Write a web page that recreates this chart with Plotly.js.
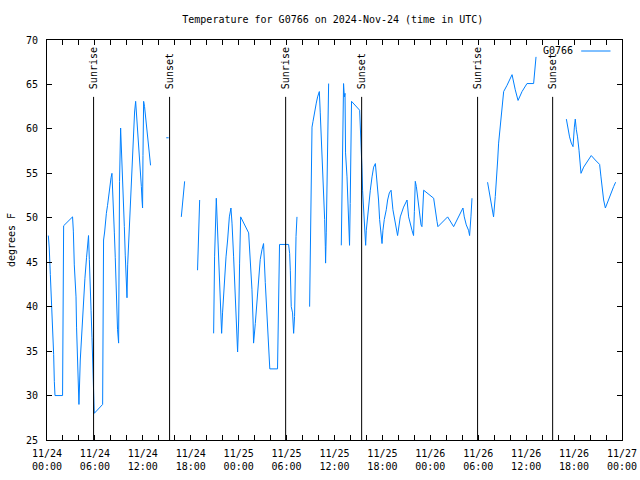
<!DOCTYPE html>
<html>
<head>
<meta charset="utf-8">
<script src="https://cdn.plot.ly/plotly-3.0.1.min.js"></script>
<style>html,body{margin:0;padding:0;background:#fff;}#chart{width:640px;height:480px;}</style>
</head>
<body>
<div id="chart"></div>
<script>
const stationName = "G0766";
const chartTitle = "Temperature for G0766 on 2024-Nov-24 (time in UTC)";
const yAxisTitle = "degrees F";

const times = [
"2024-11-24 00:10","2024-11-24 00:17","2024-11-24 00:25","2024-11-24 00:35","2024-11-24 00:42","2024-11-24 00:50","2024-11-24 00:55","2024-11-24 01:00","2024-11-24 01:57","2024-11-24 01:59",
"2024-11-24 02:05","2024-11-24 03:12","2024-11-24 03:18","2024-11-24 03:25","2024-11-24 03:38","2024-11-24 03:42","2024-11-24 03:50","2024-11-24 03:57","2024-11-24 04:00","2024-11-24 04:10",
"2024-11-24 04:20","2024-11-24 04:33","2024-11-24 04:45","2024-11-24 04:57","2024-11-24 05:05","2024-11-24 05:12","2024-11-24 05:18","2024-11-24 05:23","2024-11-24 05:31","2024-11-24 05:38",
"2024-11-24 05:43","2024-11-24 05:50","2024-11-24 05:55","2024-11-24 06:58","2024-11-24 07:00","2024-11-24 07:05","2024-11-24 07:13","2024-11-24 07:18","2024-11-24 07:26","2024-11-24 07:35",
"2024-11-24 07:43","2024-11-24 07:50","2024-11-24 08:01","2024-11-24 08:08","2024-11-24 08:16","2024-11-24 08:26","2024-11-24 08:33","2024-11-24 08:38","2024-11-24 08:46","2024-11-24 08:50",
"2024-11-24 08:58","2024-11-24 09:00","2024-11-24 09:05","2024-11-24 09:13","2024-11-24 09:18","2024-11-24 09:24","2024-11-24 09:31","2024-11-24 09:41","2024-11-24 09:48","2024-11-24 09:56",
"2024-11-24 10:01","2024-11-24 10:06","2024-11-24 10:13","2024-11-24 10:21","2024-11-24 10:31","2024-11-24 10:39","2024-11-24 10:46","2024-11-24 10:51","2024-11-24 10:58","2024-11-24 11:06",
"2024-11-24 11:11","2024-11-24 11:21","2024-11-24 11:28","2024-11-24 11:36","2024-11-24 11:41","2024-11-24 11:49","2024-11-24 11:54","2024-11-24 11:58","2024-11-24 12:01","2024-11-24 12:06",
"2024-11-24 12:13","2024-11-24 12:19","2024-11-24 12:26","2024-11-24 12:31","2024-11-24 12:39","2024-11-24 12:46","2024-11-24 12:51","2024-11-24 12:58","2024-11-24 13:30","2024-11-24 14:56",
"2024-11-24 15:14","2024-11-24 16:00","2024-11-24 16:49","2024-11-24 16:57","2024-11-24 17:06","2024-11-24 17:14","2024-11-24 18:00","2024-11-24 18:51","2024-11-24 18:53","2024-11-24 18:59",
"2024-11-24 19:07","2024-11-24 20:00","2024-11-24 20:52","2024-11-24 20:59","2024-11-24 21:12","2024-11-24 21:17","2024-11-24 21:29","2024-11-24 21:42","2024-11-24 21:47","2024-11-24 21:52",
"2024-11-24 21:59","2024-11-24 22:12","2024-11-24 22:25","2024-11-24 22:37","2024-11-24 22:50","2024-11-24 23:02","2024-11-24 23:10","2024-11-24 23:22","2024-11-24 23:35","2024-11-24 23:42",
"2024-11-24 23:52","2024-11-25 00:00","2024-11-25 00:07","2024-11-25 00:15","2024-11-25 01:15","2024-11-25 01:27","2024-11-25 01:40","2024-11-25 01:48","2024-11-25 01:52","2024-11-25 02:05",
"2024-11-25 02:18","2024-11-25 02:30","2024-11-25 02:42","2024-11-25 02:55","2024-11-25 03:07","2024-11-25 03:20","2024-11-25 03:33","2024-11-25 03:45","2024-11-25 03:52","2024-11-25 03:54",
"2024-11-25 04:52","2024-11-25 04:55","2024-11-25 05:00","2024-11-25 05:07","2024-11-25 06:15","2024-11-25 06:23","2024-11-25 06:28","2024-11-25 06:35","2024-11-25 06:45","2024-11-25 06:53",
"2024-11-25 07:00","2024-11-25 07:05","2024-11-25 07:11","2024-11-25 07:18","2024-11-25 08:00","2024-11-25 08:53","2024-11-25 08:58","2024-11-25 09:06","2024-11-25 09:11","2024-11-25 09:18",
"2024-11-25 09:28","2024-11-25 09:36","2024-11-25 09:43","2024-11-25 09:53","2024-11-25 10:06","2024-11-25 10:13","2024-11-25 10:21","2024-11-25 10:28","2024-11-25 10:38","2024-11-25 10:46",
"2024-11-25 10:51","2024-11-25 10:53","2024-11-25 10:58","2024-11-25 11:08","2024-11-25 11:16","2024-11-25 12:00","2024-11-25 12:51","2024-11-25 12:56","2024-11-25 13:01","2024-11-25 13:08",
"2024-11-25 13:14","2024-11-25 13:16","2024-11-25 13:19","2024-11-25 13:23","2024-11-25 13:34","2024-11-25 13:41","2024-11-25 13:49","2024-11-25 13:53","2024-11-25 13:58","2024-11-25 14:04",
"2024-11-25 14:08","2024-11-25 15:09","2024-11-25 15:14","2024-11-25 15:19","2024-11-25 15:26","2024-11-25 15:31","2024-11-25 15:39","2024-11-25 15:46","2024-11-25 15:54","2024-11-25 15:59",
"2024-11-25 16:09","2024-11-25 16:16","2024-11-25 16:29","2024-11-25 16:42","2024-11-25 16:54","2024-11-25 17:07","2024-11-25 17:14","2024-11-25 17:24","2024-11-25 17:31","2024-11-25 17:39",
"2024-11-25 17:49","2024-11-25 17:57","2024-11-25 18:04","2024-11-25 18:14","2024-11-25 18:29","2024-11-25 18:39","2024-11-25 18:52","2024-11-25 19:05","2024-11-25 19:19","2024-11-25 19:37",
"2024-11-25 19:54","2024-11-25 20:14","2024-11-25 20:39","2024-11-25 21:05","2024-11-25 21:17","2024-11-25 21:42","2024-11-25 21:54","2024-11-25 22:00","2024-11-25 22:07","2024-11-25 22:15",
"2024-11-25 22:27","2024-11-25 22:40","2024-11-25 22:50","2024-11-25 22:57","2024-11-25 23:02","2024-11-25 23:10","2024-11-26 00:25","2024-11-26 00:37","2024-11-26 00:50","2024-11-26 00:57",
"2024-11-26 02:10","2024-11-26 02:55","2024-11-26 04:05","2024-11-26 04:15","2024-11-26 04:30","2024-11-26 04:47","2024-11-26 04:55","2024-11-26 05:05","2024-11-26 05:13","2024-11-26 06:00",
"2024-11-26 07:10","2024-11-26 07:23","2024-11-26 07:36","2024-11-26 07:48","2024-11-26 07:55","2024-11-26 08:08","2024-11-26 08:16","2024-11-26 08:26","2024-11-26 08:33","2024-11-26 08:41",
"2024-11-26 08:51","2024-11-26 08:58","2024-11-26 09:11","2024-11-26 09:36","2024-11-26 10:14","2024-11-26 10:38","2024-11-26 10:59","2024-11-26 11:29","2024-11-26 12:06","2024-11-26 12:56",
"2024-11-26 13:03","2024-11-26 13:14","2024-11-26 15:00","2024-11-26 17:02","2024-11-26 17:14","2024-11-26 17:26","2024-11-26 17:39","2024-11-26 17:52","2024-11-26 18:02","2024-11-26 18:09",
"2024-11-26 18:17","2024-11-26 18:26","2024-11-26 18:37","2024-11-26 18:42","2024-11-26 18:52","2024-11-26 19:12","2024-11-26 19:37","2024-11-26 20:09","2024-11-26 20:39","2024-11-26 21:12",
"2024-11-26 21:22","2024-11-26 21:32","2024-11-26 21:42","2024-11-26 21:55","2024-11-26 22:07","2024-11-26 22:32","2024-11-26 22:57","2024-11-26 23:12"
];

const temps = [
48,46.6,43.6,40.4,37.4,34.6,31.6,30,30,39.4,
49.1,50.1,48.5,44.7,41.1,37.7,34.2,30.9,29,34,
37,40,43.2,45.5,47.1,48,45.3,42.2,39.6,36.5,
33.1,31,28,29,38.2,47.5,48.4,49.6,50.5,51.4,
52.6,53.5,54.5,55,50.9,48.3,45.5,42.8,40,37.4,
35.9,41.9,54.1,60.1,58.4,55.2,52.2,49,45.8,42.8,
41,44.7,47.1,49.6,52.2,54.5,56.9,59.5,61.9,63.1,
62,60.6,58.8,57.1,55.4,53.5,52,51.1,57,63.1,
62.5,61.6,60.6,59.5,58.6,57.4,56.5,55.9,null,59,
59,null,50.1,51.5,53.3,54.1,null,44.1,45.3,49.8,
52,null,37,45.6,52.2,50.5,45.6,41.9,38.5,37,
39.3,42.7,45.6,47.5,50.1,51.1,49.4,45.6,41.9,38.5,
34.9,38.5,44.9,50.1,48.3,45.3,41.9,38.5,35.9,38.1,
40.8,43.4,45.3,46.4,47.1,42.7,38.9,36.5,34.1,33,
33,36.6,43.4,47,47,46,44.1,40,39.3,37,
38.9,43.6,47.9,50.1,null,40,45.1,55,60.2,60.8,
61.8,62.3,62.9,63.6,64.2,61.8,59.3,56.1,52.9,49.8,
46.8,44.9,48.3,61.8,65.1,null,46.9,51.6,60.6,65.1,
63.6,60.6,64,57.3,54.6,51.6,48.6,46.9,51.6,59.1,
63.1,62.1,60.6,58.4,55.7,53.1,50.9,48.3,46.9,48.6,
50.1,51.6,53.1,54.6,55.7,56.1,55,53.9,52,49.8,
47.9,47.1,48.6,49.8,50.9,52,52.8,53.1,50.9,49.4,
48,50.1,51.2,52,50.1,48.6,48,50.7,54.1,53.5,
52,50.9,49.2,49,51.7,53.1,52.2,50.7,49.6,49,
50.1,49,51.1,50.1,49.2,48.6,48,50.1,52.2,null,
54,52.8,51.8,50.7,50.1,52.4,55,56.5,58.4,59.8,
60.6,62.1,64.2,64.9,66.1,64.4,63.2,64.2,65.1,65.1,
66.6,68.1,null,61.1,59.9,59.1,58.4,58,60.2,61.1,
59.9,59.1,57.6,56.5,55,55.7,56.3,57,56.5,56,
54.6,53.1,52,51.1,51.6,52.6,53.5,54
];

const sunriseTimes = ["2024-11-24 05:50","2024-11-25 05:53","2024-11-26 05:55"];
const sunsetTimes  = ["2024-11-24 15:21","2024-11-25 15:24","2024-11-26 15:19"];

const tickVals = ["2024-11-24 00:00","2024-11-24 06:00","2024-11-24 12:00","2024-11-24 18:00",
  "2024-11-25 00:00","2024-11-25 06:00","2024-11-25 12:00","2024-11-25 18:00",
  "2024-11-26 00:00","2024-11-26 06:00","2024-11-26 12:00","2024-11-26 18:00","2024-11-27 00:00"];
const tickText = ["11/24<br>00:00","11/24<br>06:00","11/24<br>12:00","11/24<br>18:00",
  "11/25<br>00:00","11/25<br>06:00","11/25<br>12:00","11/25<br>18:00",
  "11/26<br>00:00","11/26<br>06:00","11/26<br>12:00","11/26<br>18:00","11/27<br>00:00"];

const FONT = "DejaVu Sans Mono, monospace";
const lineColor = "rgb(0,128,255)";
const markerTop = 63.6, labelBase = 64.2, yMin = 25, yMax = 70;

const shapes = [];
const annotations = [];
function addEvent(t, label) {
  shapes.push({type: "line", xref: "x", yref: "y", x0: t, x1: t, y0: yMin, y1: markerTop,
    line: {color: "#000", width: 1}});
  annotations.push({xref: "x", yref: "y", x: t, y: labelBase, text: label, textangle: -90,
    showarrow: false, xanchor: "center", yanchor: "bottom", font: {family: FONT, size: 10, color: "#000"}});
}
sunriseTimes.forEach(t => addEvent(t, "Sunrise"));
sunsetTimes.forEach(t => addEvent(t, "Sunset"));

// legend (text on the left, sample line on the right, as in the reference)
annotations.push({xref: "paper", yref: "paper", x: 0.918, y: 0.9725, text: stationName,
  showarrow: false, xanchor: "right", yanchor: "middle", font: {family: FONT, size: 10, color: "#000"}});
shapes.push({type: "line", xref: "paper", yref: "paper", x0: 0.929, x1: 0.980, y0: 0.9725, y1: 0.9725,
  line: {color: lineColor, width: 1}});

const trace = {
  x: times, y: temps, type: "scatter", mode: "lines", name: stationName,
  connectgaps: false, showlegend: false,
  line: {color: lineColor, width: 1}
};

const layout = {
  width: 640, height: 480,
  margin: {l: 47, r: 18, t: 40, b: 40, pad: 0},
  paper_bgcolor: "#fff", plot_bgcolor: "#fff",
  font: {family: FONT, size: 10, color: "#000"},
  title: {text: chartTitle, font: {family: FONT, size: 10, color: "#000"},
    x: 0.52, xref: "container", y: 1 - 19/480, yref: "container", yanchor: "middle"},
  showlegend: false,
  xaxis: {
    type: "date", range: ["2024-11-24 00:00", "2024-11-27 00:00"],
    tickmode: "array", tickvals: tickVals, ticktext: tickText,
    ticks: "inside", ticklen: 5, tickwidth: 1, tickcolor: "#000",
    minor: {dtick: 2 * 3600 * 1000, ticks: "inside", ticklen: 5, tickwidth: 1, tickcolor: "#000", showgrid: false},
    showline: true, linecolor: "#000", linewidth: 1, mirror: "ticks",
    showgrid: false, zeroline: false, automargin: false,
    ticklabelstandoff: 4,
    tickfont: {family: FONT, size: 10, color: "#000"}
  },
  yaxis: {
    range: [yMin, yMax], dtick: 5, tick0: 25,
    ticks: "inside", ticklen: 5, tickwidth: 1, tickcolor: "#000",
    showline: true, linecolor: "#000", linewidth: 1, mirror: "ticks",
    showgrid: false, zeroline: false, automargin: false,
    ticklabelstandoff: 6,
    tickfont: {family: FONT, size: 10, color: "#000"},
    title: {text: yAxisTitle, font: {family: FONT, size: 10, color: "#000"}, standoff: 8}
  },
  shapes: shapes,
  annotations: annotations
};

Plotly.newPlot("chart", [trace], layout, {displayModeBar: false, staticPlot: true});
</script>
</body>
</html>
